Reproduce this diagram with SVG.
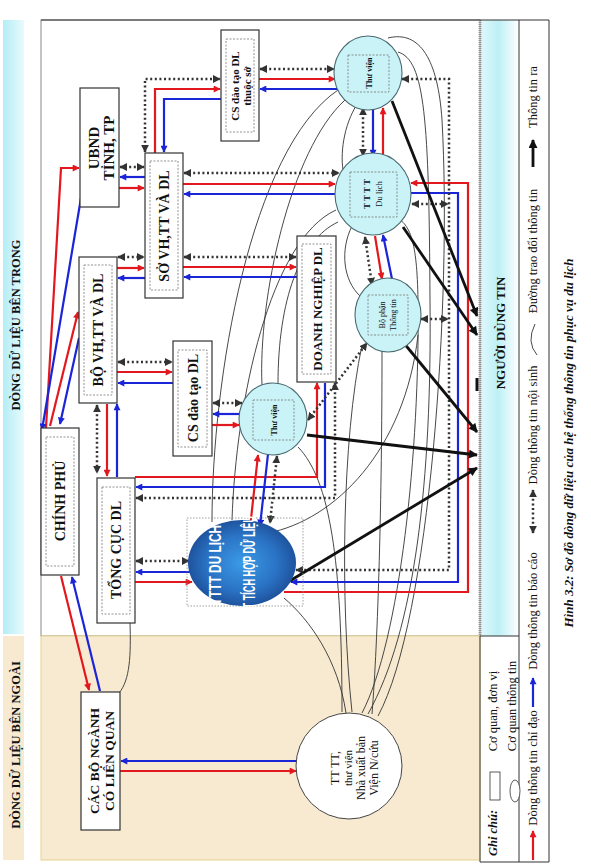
<svg xmlns="http://www.w3.org/2000/svg" width="591" height="866" viewBox="0 0 591 866">
<defs>
<linearGradient id="gL" x1="0" y1="0" x2="1" y2="0"><stop offset="0" stop-color="#b3eef5"/><stop offset="1" stop-color="#e8fafc"/></linearGradient>
<linearGradient id="gR" x1="0" y1="0" x2="1" y2="0"><stop offset="0" stop-color="#dff8fb"/><stop offset="0.45" stop-color="#bdf0f6"/><stop offset="1" stop-color="#ffffff"/></linearGradient>
<radialGradient id="gB" cx="0.5" cy="0.5" r="0.55"><stop offset="0" stop-color="#3b9be6"/><stop offset="0.6" stop-color="#2a72c4"/><stop offset="1" stop-color="#1b4a92"/></radialGradient>
<marker id="ar" viewBox="0 0 10 10" refX="9" refY="5" markerWidth="8" markerHeight="7" markerUnits="userSpaceOnUse" orient="auto-start-reverse"><path d="M0,0 L10,5 L0,10 z" fill="#e3181e"/></marker>
<marker id="ab" viewBox="0 0 10 10" refX="9" refY="5" markerWidth="8" markerHeight="7" markerUnits="userSpaceOnUse" orient="auto-start-reverse"><path d="M0,0 L10,5 L0,10 z" fill="#1a25d8"/></marker>
<marker id="ad" viewBox="0 0 10 10" refX="9" refY="5" markerWidth="8" markerHeight="8" markerUnits="userSpaceOnUse" orient="auto-start-reverse"><path d="M0,0 L10,5 L0,10 z" fill="#333"/></marker>
<marker id="ak" viewBox="0 0 10 10" refX="9" refY="5" markerWidth="10" markerHeight="9" markerUnits="userSpaceOnUse" orient="auto-start-reverse"><path d="M0,0 L10,5 L0,10 z" fill="#111"/></marker>
<style>
.bx{fill:#fff;stroke:#333;stroke-width:1.2}
.in{fill:none;stroke:#777;stroke-width:0.8;stroke-dasharray:2,1.5}
.ci{fill:#c9f3f7;stroke:#4a6a70;stroke-width:1.1}
.lb{font-family:"Liberation Serif",serif;font-weight:bold;fill:#111;text-anchor:middle}
.sm{font-family:"Liberation Serif",serif;fill:#111;text-anchor:middle}
.wt{font-family:"Liberation Sans",sans-serif;font-weight:bold;fill:#fff;text-anchor:middle}
.red{stroke:#e3181e;stroke-width:2.2;fill:none;marker-end:url(#ar)}
.blu{stroke:#1a25d8;stroke-width:2.2;fill:none;marker-end:url(#ab)}
.dot{stroke:#333;stroke-width:2.5;stroke-dasharray:2,2.6;fill:none;marker-start:url(#ad);marker-end:url(#ad)}
.thk{stroke:#111;stroke-width:2.8;fill:none;marker-end:url(#ak)}
.cv{stroke:#333;stroke-width:0.9;fill:none}
</style>
</defs>
<rect x="0" y="0" width="591" height="866" fill="#fff"/>
<g id="bands">
<rect x="3" y="20" width="21" height="614" fill="url(#gL)"/>
<rect x="3" y="636" width="21" height="224" fill="#f8ead0"/>
<text class="lb" font-size="12.5" fill="#1c2a3a" transform="translate(16,325) rotate(-90)" dy="0.35em">DÒNG DỮ LIỆU BÊN TRONG</text>
<text class="lb" font-size="12.5" fill="#1c2a3a" transform="translate(16,745) rotate(-90)" dy="0.35em">DÒNG DỮ LIỆU BÊN NGOÀI</text>
<rect x="41" y="20" width="439" height="616" fill="#fff" stroke="#888" stroke-width="1"/>
<rect x="41" y="636" width="439" height="224" fill="#f8ead0" stroke="#e4d38c" stroke-width="1"/>
</g>
<g id="n-nguoidung">
<rect x="481" y="20" width="38" height="616" fill="url(#gR)"/>
<line x1="480" y1="20" x2="480" y2="636" stroke="#999" stroke-width="3" stroke-dasharray="1,1"/>
<text class="lb" font-size="13" fill="#1f3b4d" transform="translate(500,333) rotate(-90)" dy="0.35em">NGƯỜI DÙNG TIN</text>
</g>
<g id="legend">
<path d="M41,20 H549 V862 H480 V636" fill="none" stroke="#333" stroke-width="1"/>
<line x1="519" y1="20" x2="519" y2="862" stroke="#333" stroke-width="1"/>
<line x1="480" y1="636" x2="519" y2="636" stroke="#333" stroke-width="1"/>
<text class="sm" font-size="12.5" transform="translate(533,97) rotate(-90)" dy="0.35em">Thông tin ra</text>
<line x1="533" y1="167" x2="533" y2="140" class="thk"/>
<text class="sm" font-size="12.5" transform="translate(533,251) rotate(-90)" dy="0.35em">Đường trao đổi thông tin</text>
<path d="M537,355 Q526,342 535,324" class="cv" stroke-width="1.6"/>
<text class="sm" font-size="12.5" transform="translate(533,425) rotate(-90)" dy="0.35em">Dòng thông tin nội sinh</text>
<line x1="533" y1="533" x2="533" y2="490" class="dot" stroke-width="1.5"/>
<text class="sm" font-size="12.5" transform="translate(533,611) rotate(-90)" dy="0.35em">Dòng thông tin báo cáo</text>
<line x1="533" y1="707" x2="533" y2="678" class="blu" stroke="#3a6ee0"/>
<text class="sm" font-size="12.5" transform="translate(533,768) rotate(-90)" dy="0.35em">Dòng thông tin chỉ đạo</text>
<line x1="533" y1="860" x2="533" y2="831" class="red"/>
<text class="lb" font-size="12.5" font-style="italic" transform="translate(493,833) rotate(-90)" dy="0.35em">Ghi chú:</text>
<rect x="490" y="772" width="10" height="28" fill="#fff" stroke="#333" stroke-width="0.8"/>
<text class="sm" font-size="12.5" transform="translate(493,711) rotate(-90)" dy="0.35em">Cơ quan, đơn vị</text>
<ellipse cx="515" cy="791" rx="5" ry="11" fill="#fff" stroke="#333" stroke-width="0.8"/>
<text class="sm" font-size="12.5" transform="translate(512,706) rotate(-90)" dy="0.35em">Cơ  quan thông tin</text>
<text class="lb" font-size="13" font-style="italic" transform="translate(568,443) rotate(-90)" dy="0.35em">Hình 3.2: Sơ đồ dòng dữ liệu của hệ thống thông tin phục vụ du lịch</text>
</g>
<g id="connectors">
<g id="curves">
<path class="cv" d="M130,623 C131,655 130,680 119,693"/>
<path class="cv" d="M212,522 C212,380 250,150 338,90"/>
<path class="cv" d="M232,520 C236,400 270,240 336,210"/>
<path class="cv" d="M268,533 C335,520 405,450 418,335"/>
<path class="cv" d="M262,385 C258,300 290,150 345,100"/>
<path class="cv" d="M278,384 C278,300 300,240 338,222"/>
<path class="cv" d="M298,447 C330,480 342,560 342,712"/>
<path class="cv" d="M284,598 C310,620 338,660 346,713"/>
<path class="cv" d="M382,352 C382,500 378,640 372,714"/>
<path class="cv" d="M362,713 C400,640 420,450 418,300 C417,240 410,225 396,217"/>
<path class="cv" d="M378,716 C430,620 452,300 442,120 C438,60 420,30 388,38"/>
<path class="cv" d="M368,714 C415,630 432,480 430,300 C429,120 425,60 398,52"/>
<path class="cv" d="M360,100 C345,120 340,150 343,170"/>
<path class="cv" d="M352,226 C340,250 343,280 360,296"/>
<path class="cv" d="M352,712 C340,600 342,440 362,345"/>
</g>
<g id="red">
<path class="red" d="M46,428 L61,168 H79"/>
<path class="red" d="M50,426 L78,312"/>
<path class="red" d="M61,576 L89,690"/>
<path class="red" d="M107,404 V476"/>
<path class="red" d="M117,268 H144"/>
<path class="red" d="M119,188 H144"/>
<path class="red" d="M155,153 V89 H220"/>
<path class="red" d="M183,184 H335"/>
<path class="red" d="M183,267 H296"/>
<path class="red" d="M259,79 H335"/>
<path class="red" d="M383,156 V108"/>
<path class="red" d="M375,236 L382,279"/>
<path class="red" d="M117,372 H172"/>
<path class="red" d="M212,425 H239"/>
<path class="red" d="M250,528 L258,455"/>
<path class="red" d="M135,477 H317 V383"/>
<path class="red" d="M135,582 H192"/>
<path class="red" d="M284,592 H468 V183 H411"/>
<path class="red" d="M120,771 H296"/>
</g>
<g id="blue">
<path class="blu" d="M81,198 L42,430"/>
<path class="blu" d="M79,338 L60,424"/>
<path class="blu" d="M100,691 L72,577"/>
<path class="blu" d="M117,477 V404"/>
<path class="blu" d="M145,278 H118"/>
<path class="blu" d="M145,177 H120"/>
<path class="blu" d="M221,99 H164 V152"/>
<path class="blu" d="M335,194 H184"/>
<path class="blu" d="M297,277 H184"/>
<path class="blu" d="M337,89 H260"/>
<path class="blu" d="M373,109 V156"/>
<path class="blu" d="M392,279 L383,235"/>
<path class="blu" d="M173,383 H118"/>
<path class="blu" d="M240,414 H213"/>
<path class="blu" d="M268,454 L260,526"/>
<path class="blu" d="M325,383 V487 H136"/>
<path class="blu" d="M190,572 H136"/>
<path class="blu" d="M411,193 H458 V582 H291"/>
<path class="blu" d="M297,761 H121"/>
</g>
<g id="dotted">
<path class="dot" d="M120,167 H144"/>
<path class="dot" d="M118,257 H144"/>
<path class="dot" d="M145,152 V79 H220"/>
<path class="dot" d="M184,173 H339"/>
<path class="dot" d="M184,257 H296"/>
<path class="dot" d="M260,69 H334"/>
<path class="dot" d="M363,108 V156"/>
<path class="dot" d="M365,237 L372,285"/>
<path class="dot" d="M402,79 H449 V570 H296"/>
<path class="dot" d="M412,204 H448"/>
<path class="dot" d="M421,319 H448"/>
<path class="dot" d="M118,362 H172"/>
<path class="dot" d="M213,403 H242"/>
<path class="dot" d="M277,456 L270,523"/>
<path class="dot" d="M308,420 L367,343"/>
<path class="dot" d="M335,383 V498 H136"/>
<path class="dot" d="M136,561 H189"/>
<path class="dot" d="M97,405 V473"/>
</g>
<g id="out">
<path class="thk" d="M392,101 L477,316"/>
<path class="thk" d="M403,227 L477,335"/>
<path class="thk" d="M403,342 L477,432"/>
<path class="thk" d="M307,435 L477,455"/>
<path class="thk" d="M288,582 L477,468"/>
<line x1="477" y1="378" x2="477" y2="391" stroke="#111" stroke-width="3"/>
</g>
</g>
<g id="n-ubnd">
<rect class="bx" x="80" y="88" width="39" height="119"/>
<text class="lb" font-size="15" transform="translate(94,148) rotate(-90)" dy="0.35em">UBND</text>
<text class="lb" font-size="15" transform="translate(109,148) rotate(-90)" dy="0.35em">TỈNH, TP</text>
</g>
<g id="n-cs-thuoc-so">
<rect class="bx" x="221" y="30" width="38" height="111"/>
<rect class="in" x="226" y="39" width="28" height="93"/>
<text class="lb" font-size="11" transform="translate(235,86) rotate(-90)" dy="0.35em">CS đào tạo DL</text>
<text class="lb" font-size="11" transform="translate(247,86) rotate(-90)" dy="0.35em">thuộc sở</text>
</g>
<g id="n-so">
<rect class="bx" x="145" y="153" width="38" height="145"/>
<rect class="in" x="150" y="161" width="28" height="129"/>
<text class="lb" font-size="14" transform="translate(164,226) rotate(-90)" dy="0.35em">SỞ VH,TT VÀ DL</text>
</g>
<g id="n-bo">
<rect class="bx" x="79" y="257" width="38" height="146"/>
<rect class="in" x="84" y="265" width="28" height="130"/>
<text class="lb" font-size="14" transform="translate(98,330) rotate(-90)" dy="0.35em">BỘ VH,TT VÀ DL</text>
</g>
<g id="n-chinhphu">
<rect class="bx" x="41" y="428" width="38" height="147"/>
<rect class="in" x="46" y="437" width="28" height="129"/>
<text class="lb" font-size="14" transform="translate(60,501) rotate(-90)" dy="0.35em">CHÍNH PHỦ</text>
</g>
<g id="n-tongcuc">
<rect class="bx" x="97" y="478" width="38" height="145"/>
<rect class="in" x="102" y="487" width="28" height="127"/>
<text class="lb" font-size="14" transform="translate(116,550) rotate(-90)" dy="0.35em">TỔNG CỤC DL</text>
</g>
<g id="n-csdt">
<rect class="bx" x="173" y="341" width="39" height="115"/>
<rect class="in" x="178" y="350" width="29" height="97"/>
<text class="lb" font-size="14" transform="translate(193,398) rotate(-90)" dy="0.35em">CS đào tạo DL</text>
</g>
<g id="n-dn">
<rect class="bx" x="297" y="236" width="39" height="146"/>
<rect class="in" x="302" y="244" width="29" height="130"/>
<text class="lb" font-size="13" transform="translate(317,309) rotate(-90)" dy="0.35em">DOANH NGHIỆP DL</text>
</g>
<g id="n-tv1">
<ellipse class="ci" cx="368" cy="73" rx="34" ry="37"/>
<rect class="in" x="348" y="55" width="41" height="37"/>
<text class="lb" font-size="8" transform="translate(369,73) rotate(-90)" dy="0.35em">Thư viện</text>
</g>
<g id="n-tttt">
<ellipse class="ci" cx="373" cy="194" rx="38" ry="41"/>
<rect class="in" x="350" y="172" width="47" height="45"/>
<text class="lb" font-size="9" transform="translate(367,194) rotate(-90)" dy="0.35em">T T T T</text>
<text class="sm" font-size="8.5" transform="translate(379,194) rotate(-90)" dy="0.35em">Du lịch</text>
</g>
<g id="n-bpt">
<ellipse class="ci" cx="388" cy="315" rx="33" ry="37"/>
<rect class="in" x="368" y="295" width="40" height="40"/>
<text class="sm" font-size="8" transform="translate(382,315) rotate(-90)" dy="0.35em">Bộ phận</text>
<text class="sm" font-size="8" transform="translate(393,315) rotate(-90)" dy="0.35em">Thông tin</text>
</g>
<g id="n-tv2">
<ellipse class="ci" cx="273" cy="419" rx="34" ry="36"/>
<rect class="in" x="253" y="400" width="41" height="40"/>
<text class="lb" font-size="8" transform="translate(274,420) rotate(-90)" dy="0.35em">Thư viện</text>
</g>
<g id="n-tichhop">
<rect x="187" y="518" width="116" height="88" fill="none" stroke="#888" stroke-width="0.8" stroke-dasharray="1.5,1.5"/>
<ellipse cx="242" cy="563" rx="54" ry="43" fill="url(#gB)"/>
<text class="wt" font-size="17" textLength="80" lengthAdjust="spacingAndGlyphs" transform="translate(215,565) rotate(-90)" dy="0.35em">TTTT DU LỊCH</text>
<text class="wt" font-size="17" textLength="98" lengthAdjust="spacingAndGlyphs" transform="translate(249,565) rotate(-90)" dy="0.35em">TT TÍCH HỢP DỮ LIỆU</text>
</g>
<g id="n-cacbo">
<rect class="bx" x="81" y="692" width="39" height="138"/>
<text class="lb" font-size="13.5" transform="translate(94,761) rotate(-90)" dy="0.35em">CÁC BỘ NGÀNH</text>
<text class="lb" font-size="13.5" transform="translate(109,761) rotate(-90)" dy="0.35em">CÓ LIÊN QUAN</text>
</g>
<g id="n-ngoai">
<circle cx="349" cy="766" r="53" fill="#fff" stroke="#444" stroke-width="1"/>
<text class="sm" font-size="12" transform="translate(335,768) rotate(-90)" dy="0.35em">TT TT,</text>
<text class="sm" font-size="11" transform="translate(348,768) rotate(-90)" dy="0.35em">thư viện</text>
<text class="sm" font-size="12" transform="translate(361,768) rotate(-90)" dy="0.35em">Nhà xuất bản</text>
<text class="sm" font-size="12" transform="translate(374,768) rotate(-90)" dy="0.35em">Viện N/cứu</text>
</g>
</svg>
